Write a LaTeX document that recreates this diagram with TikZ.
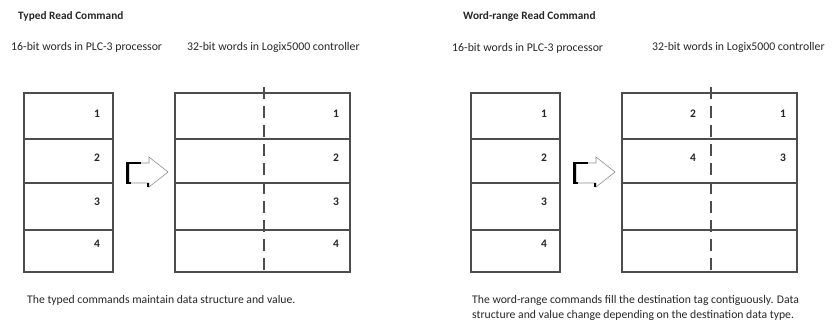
\documentclass[tikz,border=0pt]{standalone}
\usepackage{fontspec}
\setmainfont{Carlito}
\usepackage{xcolor}
\usetikzlibrary{positioning}

\definecolor{inkgray}{HTML}{262626}
\definecolor{linegray}{HTML}{4D4D4D}

\tikzset{
    frame/.style={draw=linegray, line width=1.3pt},
    divider/.style={draw=linegray, line width=1.5pt, dash pattern=on 12pt off 7pt},
    wordnum/.style={font=\fontsize{11.5}{13}\selectfont\bfseries, text=inkgray},
    title/.style={anchor=west, font=\fontsize{11.3}{13}\selectfont\bfseries, text=inkgray},
    heading/.style={anchor=west, font=\fontsize{11.8}{13}\selectfont, text=inkgray},
    caption/.style={anchor=west, align=left, font=\fontsize{11.7}{15}\selectfont, text=inkgray}
}

\begin{document}
\begin{tikzpicture}[x=1pt, y=-1pt, every node/.style={inner sep=0pt}]
    \useasboundingbox (0,0) rectangle (834,322);

    % Headings
    \node[title] (typedTitle) at (18,16) {Typed Read Command};
    \node[heading] (typedSrc) at (11,47) {16-bit words in PLC-3 processor};
    \node[heading] (typedDst) at (187,47) {32-bit words in Logix5000 controller};
    \node[title] (rangeTitle) at (463,16) {Word-range Read Command};
    \node[heading] (rangeSrc) at (452,48) {16-bit words in PLC-3 processor};
    \node[heading] (rangeDst) at (652,47) {32-bit words in Logix5000 controller};

    % Word tables and transfer arrow, once per command
    \foreach \dx in {0,447} {
        \begin{scope}[shift={(\dx,0)}]
            % 16-bit words
            \draw[frame] (24,93) rectangle (113,272);
            \foreach \y in {139,183,230}
                \draw[frame] (24,\y) -- (113,\y);
            % 32-bit words
            \draw[frame] (175,93) rectangle (350,272);
            \foreach \y in {139,183,230}
                \draw[frame] (175,\y) -- (350,\y);
            \draw[divider] (264,87) -- (264,274);
            % Transfer arrow
            \draw[draw=black!45, line width=0.6pt, fill=white]
                (129,163) -- (149,163) -- (149,157) -- (168,172)
                -- (149,187) -- (149,183) -- (129,183) -- cycle;
            \draw[black, line width=2.2pt]
                (141,163) -- (127.5,163) -- (127.5,183) -- (131,183);
            \draw[black, line width=1.8pt] (148,183) -- (148,187);
        \end{scope}
    }

    % Typed read numbers
    \foreach \n/\y in {1/114, 2/158, 3/202, 4/244} {
        \node[wordnum] (typedSrc\n) at (97,\y) {\n};
        \node[wordnum] (typedDst\n) at (336,\y) {\n};
        \node[wordnum] (rangeSrc\n) at (544,\y) {\n};
    }

    % Word-range read numbers
    \node[wordnum] (rangeDst1) at (783,114) {1};
    \node[wordnum] (rangeDst2) at (693,114) {2};
    \node[wordnum] (rangeDst3) at (783,158) {3};
    \node[wordnum] (rangeDst4) at (693,158) {4};

    % Notes
    \node[caption] (typedNote) at (27,300) {The typed commands maintain data structure and value.};
    \node[caption] (rangeNote) at (472,307.5) {The word-range commands fill the destination tag contiguously. Data\\structure and value change depending on the destination data type.};
\end{tikzpicture}
\end{document}
